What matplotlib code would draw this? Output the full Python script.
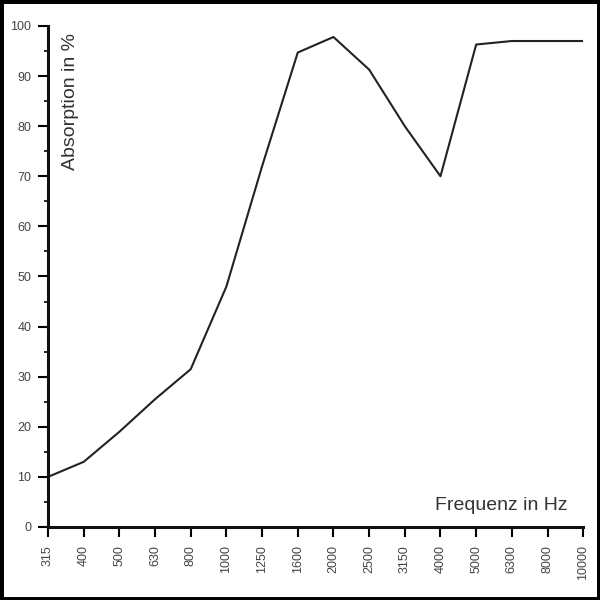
import matplotlib.pyplot as plt
from matplotlib.patches import Rectangle

plt.rcParams['font.family'] = ['Liberation Sans Narrow', 'Liberation Sans', 'DejaVu Sans']

freq_labels = ['315', '400', '500', '630', '800', '1000', '1250', '1600', '2000',
               '2500', '3150', '4000', '5000', '6300', '8000', '10000']
absorption = [10, 13, 19, 25.5, 31.5, 48, 72, 94.7, 97.8, 91.3, 80, 70, 96.3, 97, 97, 97]

fig = plt.figure(figsize=(6, 6), dpi=100)
ax = fig.add_axes([0.08, 0.1217, 0.892, 0.835])

x = list(range(len(freq_labels)))
ax.plot(x, absorption, color='#222222', lw=1.5, solid_joinstyle='round')

ax.set_xlim(0, len(freq_labels) - 1)
ax.set_ylim(0, 100)
ax.set_xticks(x)
ax.set_xticklabels(freq_labels, rotation=90, fontsize=9, color='#444444')
ax.set_yticks(range(0, 101, 10))
ax.set_yticks(range(5, 100, 10), minor=True)
ax.tick_params(axis='y', which='major', labelsize=9, labelcolor='#444444',
               length=7, width=1.5, pad=5)
ax.tick_params(axis='y', which='minor', length=3, width=1.2)
ax.tick_params(axis='x', length=7, width=1.5, pad=6)

for s in ['top', 'right']:
    ax.spines[s].set_visible(False)
for s in ['left', 'bottom']:
    ax.spines[s].set_linewidth(2.2)
    ax.spines[s].set_color('#111111')

ax.text(0.027, 0.985, 'Absorption in %', transform=ax.transAxes, rotation=90,
        ha='left', va='top', fontsize=14, color='#333333')
ax.text(0.97, 0.025, 'Frequenz in Hz', transform=ax.transAxes,
        ha='right', va='bottom', fontsize=14, color='#333333')

fig.patches.append(Rectangle((0, 0), 1, 1, transform=fig.transFigure,
                             fill=False, edgecolor='black', lw=5))

fig.savefig('out.png', dpi=100)
